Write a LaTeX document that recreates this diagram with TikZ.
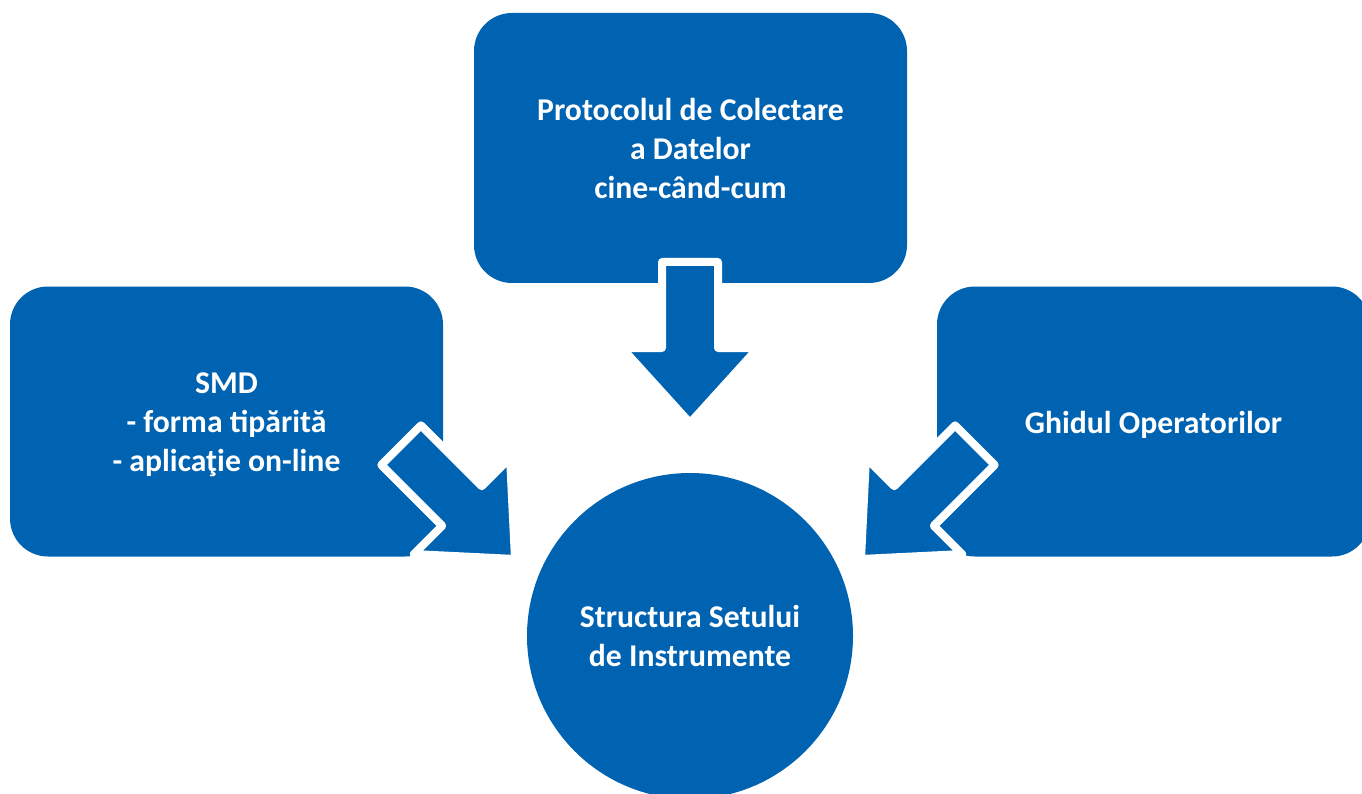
\documentclass[tikz,border=0pt]{standalone}
\usepackage{fontspec}
\setmainfont{Carlito}
\definecolor{boxblue}{RGB}{0,99,177}
\begin{document}
\begin{tikzpicture}[x=1pt,y=-1pt,
  labelfont/.style={font=\bfseries\fontsize{31.7}{39}\selectfont},
  caption/.style={text=white, labelfont, align=center, inner sep=0pt},
  panel/.style={fill=boxblue, rounded corners=38pt, caption,
    minimum width=433pt, minimum height=270pt},
  hub/.style={circle, fill=boxblue, caption, minimum size=326pt},
  blockarrow/.pic={
    \filldraw[fill=boxblue, draw=white, line width=8pt, line join=round]
      (0,0) -- (-68,-75) -- (-28,-75) -- (-28,-161) -- (28,-161)
      -- (28,-75) -- (68,-75) -- cycle;
  }
]
\useasboundingbox (0,0) rectangle (1362,794);
\clip (0,0) rectangle (1362,794);

% the three source panels and the central hub
\node[panel] (proto) at (690.5,148) {Protocolul de Colectare\\a Datelor\\cine-când-cum};
\node[panel] (smd) at (226.5,421.5) {};
\node[caption] (smdtext) at ([yshift=-3pt]smd.center) {SMD\\- forma tipărită\\- aplicaţie on-line};
\node[panel] (ghid) at (1153.5,421.5) {};
\node[caption] (ghidtext) at ([yshift=-3pt]ghid.center) {Ghidul Operatorilor};
\node[hub] (hub) at (690,636) {Structura Setului\\de Instrumente};

% block arrows pointing towards the hub
\coordinate (tipdown) at (690,423);
\coordinate (tipleft) at (515,559);
\coordinate (tipright) at (861,559);
\pic at (tipdown) {blockarrow};
\pic[rotate=45] at (tipleft) {blockarrow};
\pic[rotate=-45] at (tipright) {blockarrow};
\end{tikzpicture}
\end{document}
